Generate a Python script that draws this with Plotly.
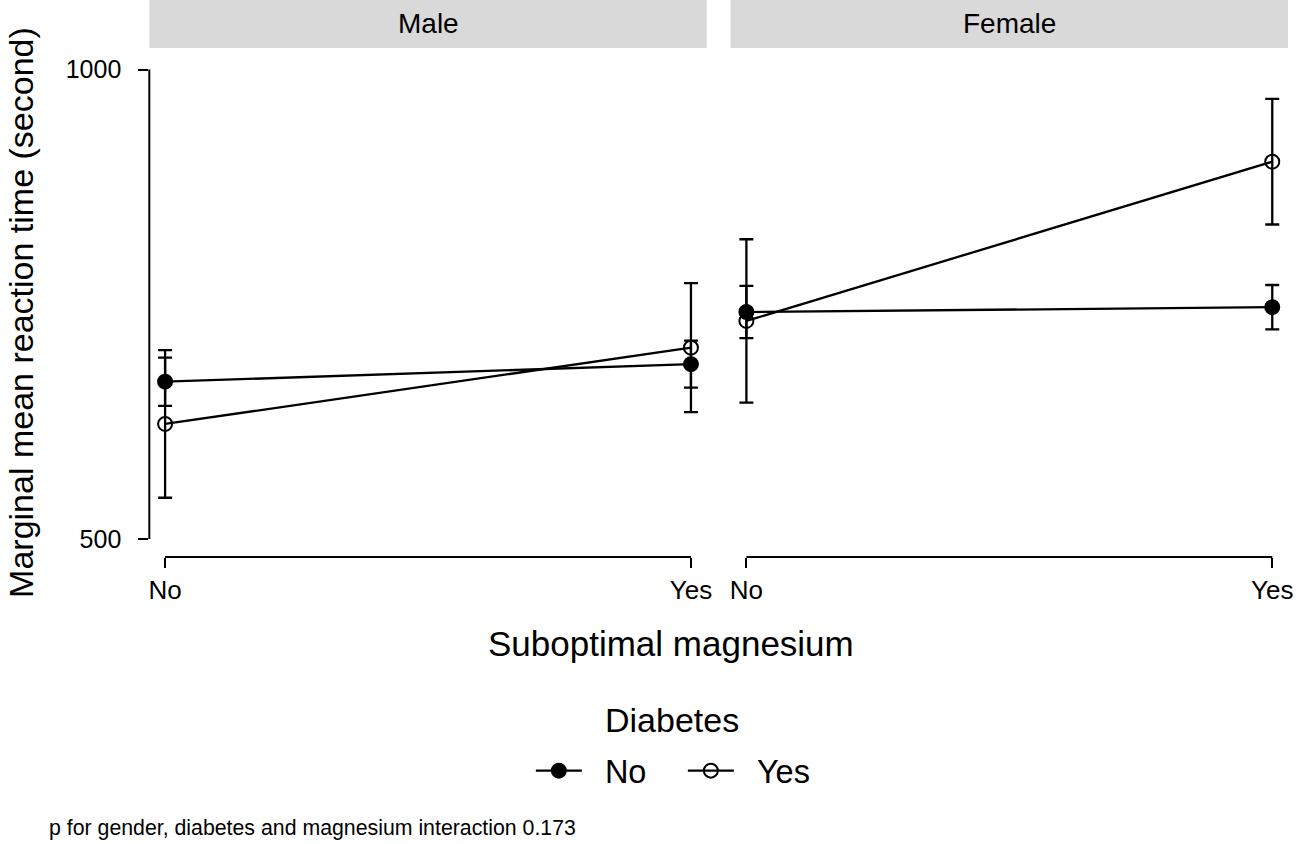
import plotly.graph_objects as go

W, H = 1300, 844

panels = ["Male", "Female"]
magnesium = ["No", "Yes"]
diabetes = ["No", "Yes"]
x_pos = [1, 2]

# Diabetes = No (filled)
no_male = [667.5, 686.2]
no_male_err = [25.7, 25.0]
no_female = [741.7, 746.9]
no_female_err = [27.8, 23.6]

# Diabetes = Yes (open)
yes_male = [622.5, 703.7]
yes_male_err = [78.6, 68.7]
yes_female = [732.2, 901.8]
yes_female_err = [87.0, 66.9]

y_ticks = [500, 1000]
y_range = [480.8, 1022.9]
x_range = [0.97, 2.03]

FONT = "Liberation Sans, Arial, sans-serif"
LW = 2.3
NBSP = "\u00a0"

fig = go.Figure()

series = [
    (diabetes[0], "circle", [no_male, no_female], [no_male_err, no_female_err]),
    (diabetes[1], "circle-open", [yes_male, yes_female], [yes_male_err, yes_female_err]),
]

for name, sym, vals, errs in series:
    for i, (xa, ya) in enumerate([("x", "y"), ("x2", "y2")]):
        fig.add_trace(go.Scatter(
            x=x_pos, y=vals[i], xaxis=xa, yaxis=ya,
            mode="lines+markers", name=NBSP * 2 + name, legendgroup=name,
            showlegend=(i == 0),
            line=dict(color="black", width=LW),
            marker=dict(symbol=sym, size=14, color="black",
                        line=dict(color="black", width=2)),
            error_y=dict(type="data", array=errs[i], visible=True,
                         color="black", thickness=LW, width=7),
        ))

d1 = [149 / W, 709 / W]
d2 = [733 / W, 1293 / W]
ydom = [(H - 557) / H, (H - 48) / H]

common_x = dict(range=x_range, tickvals=x_pos, ticktext=magnesium,
                showline=False, showgrid=False, zeroline=False,
                ticks="outside", ticklen=10, tickwidth=2, tickcolor="black",
                tickfont=dict(size=26, color="black", family=FONT))
fig.update_layout(
    xaxis=dict(domain=d1, anchor="y", **common_x),
    xaxis2=dict(domain=d2, anchor="y2", **common_x),
    yaxis=dict(domain=ydom, range=y_range, tickvals=y_ticks, anchor="x",
               showline=False, showgrid=False, zeroline=False,
               ticks="outside", ticklen=10, tickwidth=2, tickcolor="black",
               ticklabelstandoff=12,
               tickfont=dict(size=25, color="black", family=FONT)),
    yaxis2=dict(domain=ydom, range=y_range, anchor="x2", matches="y",
                showline=False, showgrid=False, zeroline=False,
                showticklabels=False, ticks=""),
)

shapes = []
# strips
for dom in (d1, d2):
    shapes.append(dict(type="rect", xref="paper", yref="paper",
                       x0=dom[0], x1=dom[1], y0=ydom[1], y1=1.0,
                       fillcolor="#d9d9d9", line=dict(width=0), layer="below"))
# y-axis line (capped)
shapes.append(dict(type="line", xref="x domain", yref="y",
                   x0=0, x1=0, y0=y_ticks[0], y1=y_ticks[1],
                   line=dict(color="black", width=2)))
# x-axis lines (capped)
for xr, yr in (("x", "y domain"), ("x2", "y2 domain")):
    shapes.append(dict(type="line", xref=xr, yref=yr,
                       x0=x_pos[0], x1=x_pos[1], y0=0, y1=0,
                       line=dict(color="black", width=2)))

annotations = []
for p, dom in zip(panels, (d1, d2)):
    annotations.append(dict(text=p, xref="paper", yref="paper",
                            x=(dom[0] + dom[1]) / 2, y=(H - 24) / H,
                            showarrow=False, xanchor="center", yanchor="middle",
                            font=dict(size=28, color="black", family=FONT)))
annotations.append(dict(text="Suboptimal magnesium", xref="paper", yref="paper",
                        x=673 / W, y=(H - 643) / H, showarrow=False,
                        xanchor="center", yanchor="middle",
                        font=dict(size=35, color="black", family=FONT)))
annotations.append(dict(text="Marginal mean reaction time (second)", xref="paper",
                        yref="paper", x=20 / W, y=(H - 312) / H, showarrow=False,
                        textangle=-90, xanchor="center", yanchor="middle",
                        font=dict(size=34, color="black", family=FONT)))
annotations.append(dict(text="Diabetes", xref="paper", yref="paper",
                        x=674 / W, y=(H - 720) / H, showarrow=False,
                        xanchor="center", yanchor="middle",
                        font=dict(size=34, color="black", family=FONT)))
annotations.append(dict(text="p for gender, diabetes and magnesium interaction 0.173",
                        xref="paper", yref="paper", x=46 / W, y=(H - 828) / H,
                        showarrow=False, xanchor="left", yanchor="middle",
                        font=dict(size=21.3, color="black", family=FONT)))

fig.update_layout(
    width=W, height=H,
    margin=dict(l=0, r=0, t=0, b=0),
    paper_bgcolor="white", plot_bgcolor="white",
    shapes=shapes, annotations=annotations,
    showlegend=True,
    legend=dict(orientation="h", x=685 / W, xanchor="center",
                y=(H - 771) / H, yanchor="middle",
                font=dict(size=32.5, color="black", family=FONT),
                itemwidth=46, entrywidth=91, bgcolor="rgba(0,0,0,0)"),
)

fig.write_html(
    "out.html",
    config={"displayModeBar": False},
    post_script="document.body.style.margin='0';document.body.style.overflow='hidden';",
)
